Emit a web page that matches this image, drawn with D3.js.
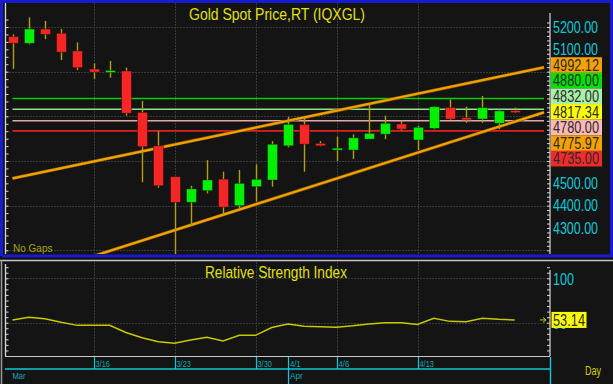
<!DOCTYPE html>
<html><head><meta charset="utf-8">
<script src="https://cdn.jsdelivr.net/npm/d3@7"></script>
<style>html,body{margin:0;padding:0;background:#121212;overflow:hidden}</style>
</head><body>
<script>
// ---------------- data ----------------
const dates = ["3/9","3/10","3/11","3/12","3/13","3/16","3/17","3/18","3/19","3/20",
  "3/23","3/24","3/25","3/26","3/27","3/30","3/31","4/1","4/2","4/3",
  "4/6","4/7","4/8","4/9","4/10","4/13","4/14","4/15","4/16","4/17","4/20","4/21"];
const open  = [5157,5127,5191,5172,5093,5012,4999,5003,4818,4668,4530,4415,4467,4519,4400,4485,
  4515,4668,4764,4679,4651,4649,4698,4720,4766,4694,4746,4840,4794,4788,4769,4821];
const high  = [5167,5243,5227,5191,5131,5037,5048,5018,4869,4734,4530,4489,4604,4552,4560,4585,
  4689,4798,4794,4689,4709,4719,4858,4803,4780,4758,4845,4876,4843,4891,4831,4839];
const low   = [5012,5122,5146,5052,5007,4968,4973,4803,4505,4480,4180,4309,4455,4358,4388,4418,
  4485,4661,4552,4666,4600,4609,4715,4698,4737,4649,4742,4784,4771,4771,4743,4814];
const close = [5127,5191,5167,5087,5018,4998,5001,4814,4664,4489,4415,4475,4515,4393,4500,4518,
  4675,4764,4675,4668,4653,4704,4724,4769,4743,4751,4843,4788,4784,4839,4824,4817.34];
const rsi   = [53.0,56.1,54.5,50.5,47,47,47,39,33,28.5,26.8,30.5,33.5,29.5,35.8,35.8,
  44.5,48.5,46,45.5,45,46.5,48.5,50,50,48,55,51.5,51.2,55,53.8,53.14];
const levelValues = [4880, 4832, 4780, 4735];
const upperTrend = [[0, 4522], [31, 4992.12]];
const lowerTrend = [[10, 4290], [31, 4775.97]];
const priceTickLabels = [5200, 5100, 4500, 4400, 4300];
const priceGrid = [5200, 5000, 4800, 4600, 4400, 4200];
const rsiTickLabels = [100, 50];
const weekStarts = ["3/16","3/23","3/30","4/6","4/13"];
const dateTickLabels = ["3/16","3/23","3/30","4/1","4/6","4/13"];
const monthLabels = [["Mar","3/9"],["Apr","4/1"]];
const titleText = "Gold Spot Price,RT (IQXGL)";
const rsiTitle = "Relative Strength Index";

// ---------------- styles ----------------
const C = {
  bg:"#141414", frame:"#1a1ad0", axis:"#d8d8d8", grid:"#3a3a3a",
  up:"#00f000", down:"#f42626", wick:"#b0a010", trend:"#f5a200",
  cyan:"#12c8d8", yellow:"#e0e010", rsi:"#c8c800",
  levels:["#00d000","#90e090","#e8a8a8","#e02020"],
  levelBg:["#00e000","#a8f0a8","#ffb8b8","#f42a2a"]
};
const W = 613, H = 384;
const font = "'Liberation Sans', Arial, sans-serif";

const svg = d3.select("body").append("svg").attr("width", W).attr("height", H)
  .style("display","block").style("font-family", font);
svg.append("rect").attr("width", W).attr("height", H).attr("fill", "#101010");

// scales
const x = d3.scaleLinear().domain([0, dates.length - 1]).range([12.5, 514.7]);
const y = d3.scaleLinear().domain([4300, 5200]).range([228, 27]);
const yR = d3.scaleLinear().domain([50, 100]).range([322.7, 278.3]);
const idx = d => dates.indexOf(d);

const plotL = 6, plotR = 549, plotT = 3, plotB = 254;
const rsiT = 262, rsiB = 356;

// panel backgrounds
svg.append("rect").attr("x", 0).attr("y", 0).attr("width", W).attr("height", 257).attr("fill", C.bg);
svg.append("rect").attr("x", 0).attr("y", rsiT).attr("width", W).attr("height", H - rsiT).attr("fill", C.bg);

// main frame (blue)
svg.append("path").attr("d", `M1.5,256 V1.5 H611.5 V256 H1.5`).attr("fill","none")
  .attr("stroke", C.frame).attr("stroke-width", 3);
// rsi frame (gray)
svg.append("line").attr("x1", 0).attr("x2", W).attr("y1", 260.5).attr("y2", 260.5)
  .attr("stroke", "#c8c8c8").attr("stroke-width", 1.5);
svg.append("line").attr("x1", 1.5).attr("x2", 1.5).attr("y1", 260).attr("y2", H)
  .attr("stroke", "#9a9a9a").attr("stroke-width", 1.5);
svg.append("line").attr("x1", 5).attr("x2", 550).attr("y1", 356.5).attr("y2", 356.5)
  .attr("stroke", "#c8c8c8").attr("stroke-width", 1.2);

// clip
svg.append("clipPath").attr("id","clipMain").append("rect")
  .attr("x", plotL).attr("y", plotT).attr("width", plotR - plotL).attr("height", plotB - plotT);

// grid main
const gMain = svg.append("g").attr("clip-path","url(#clipMain)");
gMain.selectAll(".hg").data(priceGrid).join("line")
  .attr("x1", plotL).attr("x2", plotR).attr("y1", d => Math.round(y(d)) + 0.5).attr("y2", d => Math.round(y(d)) + 0.5)
  .attr("stroke", C.grid).attr("stroke-dasharray", "2,1");
gMain.selectAll(".vg").data(weekStarts).join("line")
  .attr("x1", d => Math.round(x(idx(d))) + 0.5).attr("x2", d => Math.round(x(idx(d))) + 0.5)
  .attr("y1", plotT).attr("y2", plotB).attr("stroke", C.grid).attr("stroke-dasharray", "2,1");

// level lines
const lineEnd = 544;
gMain.selectAll(".lvl").data(levelValues).join("line")
  .attr("x1", x(0)).attr("x2", lineEnd)
  .attr("y1", d => y(d)).attr("y2", d => y(d))
  .attr("stroke", (d, i) => C.levels[i]).attr("stroke-width", 1.6);

// trend lines
function trendPts(t) {
  const [[i0, v0], [i1, v1]] = t;
  const slope = (v1 - v0) / (i1 - i0);
  const iEnd = x.invert(lineEnd);
  const iStart = 0;
  return [[iStart, v0 + slope * (iStart - i0)], [iEnd, v0 + slope * (iEnd - i0)]];
}
[upperTrend, lowerTrend].forEach(t => {
  const p = trendPts(t);
  gMain.append("line")
    .attr("x1", x(p[0][0])).attr("y1", y(p[0][1]))
    .attr("x2", x(p[1][0])).attr("y2", y(p[1][1]))
    .attr("stroke", "#7a5000").attr("stroke-width", 3.4);
  gMain.append("line")
    .attr("x1", x(p[0][0])).attr("y1", y(p[0][1]))
    .attr("x2", x(p[1][0])).attr("y2", y(p[1][1]))
    .attr("stroke", C.trend).attr("stroke-width", 2.2);
});

// candles
const bars = d3.range(dates.length);
gMain.selectAll(".wick").data(bars).join("line")
  .attr("x1", i => Math.round(x(i)) + 0.5).attr("x2", i => Math.round(x(i)) + 0.5)
  .attr("y1", i => y(high[i])).attr("y2", i => y(low[i]))
  .attr("stroke", C.wick).attr("stroke-width", 1.4);
gMain.selectAll(".body").data(bars).join("rect")
  .attr("x", i => Math.round(x(i)) - 4.5).attr("width", 10)
  .attr("y", i => { const t = y(Math.max(open[i], close[i])); const h = Math.abs(y(open[i]) - y(close[i])); return h < 2 ? t - 1 : t; })
  .attr("height", i => Math.max(2, Math.abs(y(open[i]) - y(close[i]))))
  .attr("fill", i => close[i] >= open[i] ? C.up : C.down)
  .attr("stroke", "rgba(0,0,0,0.45)").attr("stroke-width", 0.8);

// "No Gaps"
svg.append("text").attr("x", 13).attr("y", 252).attr("font-size", 10).attr("fill", "#a8a800")
  .text("No Gaps");

// title
svg.append("text").attr("x", 189).attr("y", 20).attr("font-size", 17).attr("fill", C.yellow)
  .attr("textLength", 176).attr("lengthAdjust", "spacingAndGlyphs").text(titleText);

// left axis main
const leftAx = d3.axisRight(y).tickValues(d3.range(4200, 5240, 100 / 3)).tickSize(3).tickFormat("");
const gl = svg.append("g").attr("transform", `translate(${plotL - 0.5},0)`).call(leftAx);
gl.select(".domain").remove();
gl.selectAll("line").attr("stroke", C.axis);
svg.append("line").attr("x1", plotL - 0.5).attr("x2", plotL - 0.5).attr("y1", plotT).attr("y2", plotB)
  .attr("stroke", C.axis).attr("stroke-width", 1.3);

// right axis main
const rightAx = d3.axisLeft(y).tickValues(d3.range(4200, 5240, 20)).tickSize(3).tickFormat("");
const gr = svg.append("g").attr("transform", `translate(${plotR + 1},0)`).call(rightAx);
gr.select(".domain").remove();
gr.selectAll("line").attr("stroke", C.axis);
svg.append("line").attr("x1", plotR + 1).attr("x2", plotR + 1).attr("y1", plotT + 10).attr("y2", plotB)
  .attr("stroke", C.axis).attr("stroke-width", 1.2);

// price tick labels
svg.selectAll(".ptl").data(priceTickLabels).join("text")
  .attr("x", 553).attr("y", d => y(d)).attr("dy", "0.36em")
  .attr("font-size", 16).attr("fill", C.cyan)
  .attr("textLength", 45).attr("lengthAdjust", "spacingAndGlyphs")
  .text(d => d.toFixed(2));

// value labels (stacked)
const n = dates.length;
const upEnd = upperTrend[1][1], loEnd = lowerTrend[1][1];
const valLabels = [
  {v: upEnd, bg: C.trend},
  {v: levelValues[0], bg: C.levelBg[0]},
  {v: levelValues[1], bg: C.levelBg[1]},
  {v: close[n - 1], bg: "#ffff00"},
  {v: levelValues[2], bg: C.levelBg[2]},
  {v: loEnd, bg: C.trend},
  {v: levelValues[3], bg: C.levelBg[3]}
].sort((a, b) => b.v - a.v);
const lh = 15.6;
const meanY = d3.mean(valLabels, d => y(d.v)) + 2.3;
valLabels.forEach((d, i) => { d.cy = meanY + (i - (valLabels.length - 1) / 2) * lh; });
const gv = svg.append("g");
gv.selectAll("rect").data(valLabels).join("rect")
  .attr("x", 551).attr("width", 51).attr("y", d => d.cy - lh / 2).attr("height", lh)
  .attr("fill", d => d.bg);
gv.selectAll("text").data(valLabels).join("text")
  .attr("x", 553).attr("y", d => d.cy).attr("dy", "0.36em")
  .attr("font-size", 16).attr("fill", "#2a2a2a")
  .attr("textLength", 46).attr("lengthAdjust", "spacingAndGlyphs")
  .text(d => d.v.toFixed(2));

// ---------------- RSI panel ----------------
svg.append("clipPath").attr("id","clipRsi").append("rect")
  .attr("x", plotL).attr("y", rsiT).attr("width", plotR - plotL).attr("height", rsiB - rsiT);
const gR = svg.append("g").attr("clip-path","url(#clipRsi)");
gR.selectAll(".hg").data(rsiTickLabels).join("line")
  .attr("x1", plotL).attr("x2", plotR).attr("y1", d => Math.round(yR(d)) + 0.5).attr("y2", d => Math.round(yR(d)) + 0.5)
  .attr("stroke", C.grid).attr("stroke-dasharray", "2,1");
gR.selectAll(".vg").data(weekStarts).join("line")
  .attr("x1", d => Math.round(x(idx(d))) + 0.5).attr("x2", d => Math.round(x(idx(d))) + 0.5)
  .attr("y1", rsiT).attr("y2", rsiB).attr("stroke", C.grid).attr("stroke-dasharray", "2,1");
gR.append("path").datum(rsi)
  .attr("d", d3.line().x((d, i) => x(i)).y(d => yR(d)))
  .attr("fill", "none").attr("stroke", C.rsi).attr("stroke-width", 1.5);

svg.append("text").attr("x", 205).attr("y", 278).attr("font-size", 16).attr("fill", C.yellow)
  .attr("textLength", 142).attr("lengthAdjust", "spacingAndGlyphs").text(rsiTitle);

// RSI axes
const rl = d3.axisRight(yR).tickValues(d3.range(0, 121, 6.25)).tickSize(3).tickFormat("");
const grl = svg.append("g").attr("transform", `translate(${plotL - 0.5},0)`).call(rl);
grl.select(".domain").remove();
grl.selectAll("line").attr("stroke", C.axis);
grl.selectAll(".tick").filter(d => yR(d) < rsiT + 2 || yR(d) > rsiB - 2).remove();
svg.append("line").attr("x1", plotL - 0.5).attr("x2", plotL - 0.5).attr("y1", rsiT + 2).attr("y2", rsiB)
  .attr("stroke", C.axis).attr("stroke-width", 1.3);
const rr = d3.axisLeft(yR).tickValues(d3.range(0, 121, 6.25)).tickSize(3).tickFormat("");
const grr = svg.append("g").attr("transform", `translate(${plotR + 1},0)`).call(rr);
grr.select(".domain").remove();
grr.selectAll("line").attr("stroke", C.axis);
grr.selectAll(".tick").filter(d => yR(d) < rsiT + 4 || yR(d) > rsiB - 2).remove();
svg.append("line").attr("x1", plotR + 1).attr("x2", plotR + 1).attr("y1", rsiT + 8).attr("y2", rsiB)
  .attr("stroke", C.axis).attr("stroke-width", 1.2);

svg.selectAll(".rtl").data(rsiTickLabels).join("text")
  .attr("x", 553).attr("y", d => yR(d)).attr("dy", "0.4em")
  .attr("font-size", 16).attr("fill", C.cyan)
  .attr("textLength", d => String(d).length * 7).attr("lengthAdjust", "spacingAndGlyphs")
  .text(d => d);

// last RSI marker + label
const lastR = rsi[rsi.length - 1];
svg.append("path")
  .attr("d", `M540,${yR(lastR)} H546 M543,${yR(lastR) - 2.5} L546,${yR(lastR)} L543,${yR(lastR) + 2.5}`)
  .attr("stroke", C.rsi).attr("fill", "none").attr("stroke-width", 1);
svg.append("rect").attr("x", 551.5).attr("y", yR(lastR) - 8).attr("width", 35).attr("height", 16)
  .attr("fill", "#ffff00");
svg.append("text").attr("x", 553).attr("y", yR(lastR)).attr("dy", "0.36em")
  .attr("font-size", 16).attr("fill", "#2a2a2a")
  .attr("textLength", 32).attr("lengthAdjust", "spacingAndGlyphs").text(lastR.toFixed(2));

// ---------------- date axis ----------------
const axY = 369;
svg.append("line").attr("x1", 5).attr("x2", 550).attr("y1", axY).attr("y2", axY)
  .attr("stroke", C.cyan).attr("stroke-width", 1.4);
svg.append("line").attr("x1", 550.5).attr("x2", 550.5).attr("y1", 357).attr("y2", H)
  .attr("stroke", C.cyan).attr("stroke-width", 1.4);
svg.selectAll(".dt").data(dateTickLabels).join("line")
  .attr("x1", d => Math.round(x(idx(d))) + 0.5).attr("x2", d => Math.round(x(idx(d))) + 0.5)
  .attr("y1", 357).attr("y2", d => monthLabels.some(m => m[1] === d) ? H : axY)
  .attr("stroke", C.cyan).attr("stroke-width", 1.2);
svg.selectAll(".dtl").data(dateTickLabels).join("text")
  .attr("x", d => x(idx(d)) + 2).attr("y", 367).attr("font-size", 9).attr("fill", "#10a8b8")
  .attr("textLength", d => d.length * 3.6).attr("lengthAdjust", "spacingAndGlyphs")
  .text(d => d);
svg.selectAll(".ml").data(monthLabels).join("text")
  .attr("x", d => x(idx(d[1])) + (idx(d[1]) === 0 ? 0 : 2)).attr("y", 379).attr("font-size", 9).attr("fill", "#10a8b8")
  .attr("textLength", 13).attr("lengthAdjust", "spacingAndGlyphs")
  .text(d => d[0]);

svg.append("text").attr("x", 585).attr("y", 375).attr("font-size", 12).attr("fill", "#d0d000")
  .attr("textLength", 16).attr("lengthAdjust", "spacingAndGlyphs").text("Day");
</script>
</body></html>
